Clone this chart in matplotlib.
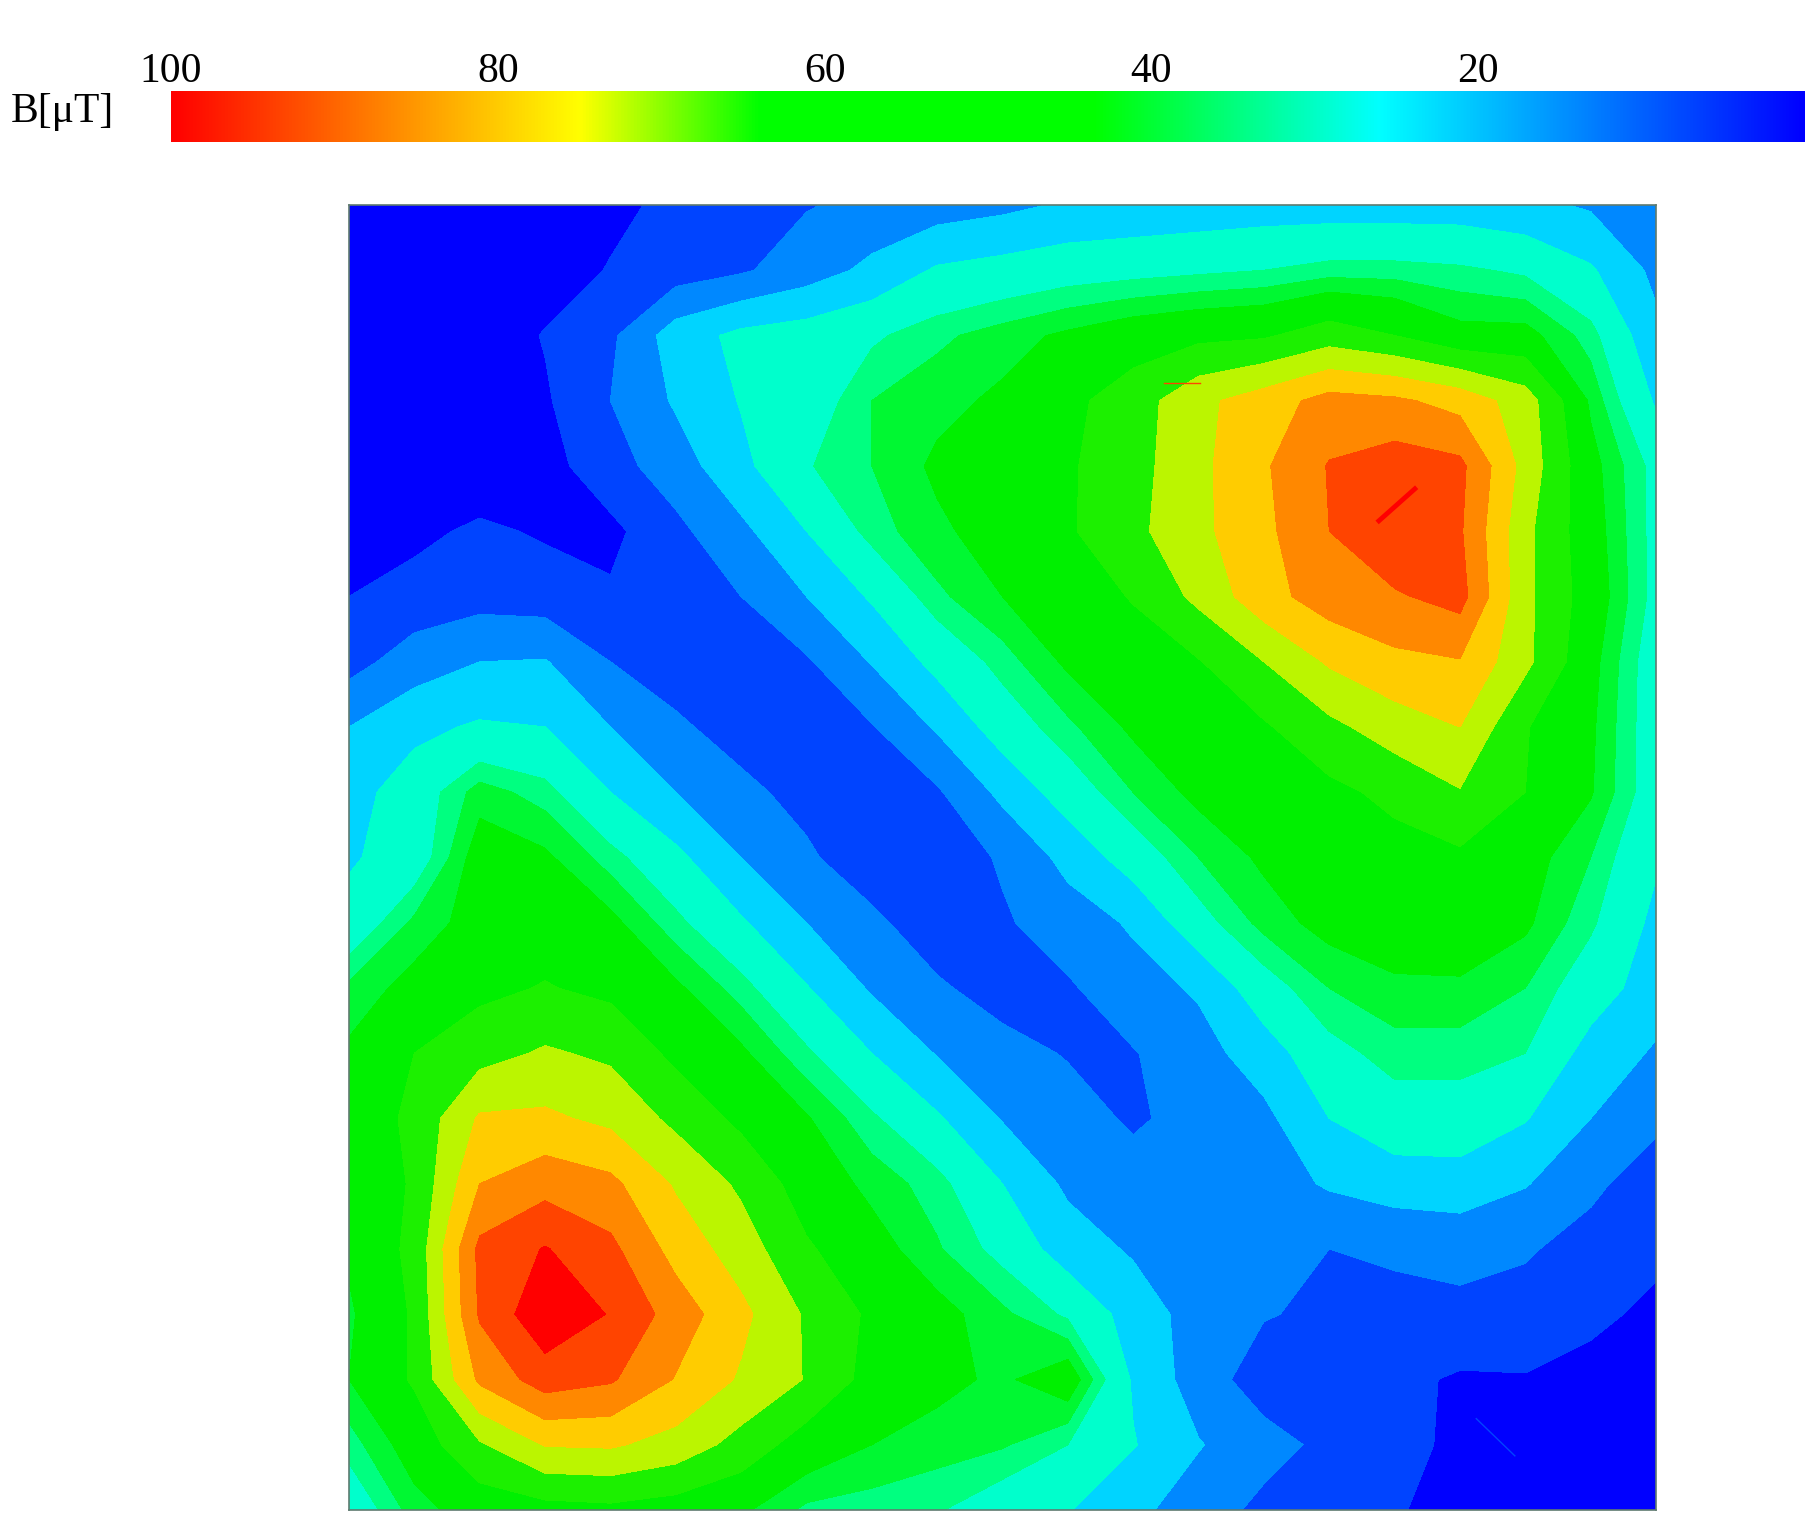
import matplotlib
matplotlib.use('Agg')
import matplotlib.pyplot as plt
from matplotlib.colors import LinearSegmentedColormap
import numpy as np

W, H = 1814, 1529

# B field, one row per line from top to bottom, in uT
B = [
    [2, 2, 2, 3, 6, 10, 13, 15.5, 18, 20, 22, 25, 26, 27, 28, 28, 28, 28, 26, 23, 20],
    [2, 2, 2, 4, 8.5, 12, 15, 20, 26, 33, 35, 37, 38, 39, 40, 42, 42, 41, 39, 33, 22],
    [2, 2, 3, 8.5, 14.5, 28, 34, 36, 39, 43, 46, 49, 52, 54, 55, 60, 56, 50, 50, 42, 26],
    [2, 2, 3, 7, 16, 25, 32.5, 36, 44, 46.5, 49, 54, 60, 70, 76, 83, 81.5, 77, 68, 47, 31],
    [2, 2, 2, 5, 13, 20, 30, 39.5, 44, 49, 52, 55, 61, 70, 79, 88.5, 92, 90, 69, 50, 38],
    [3, 6, 9.5, 7, 6, 14, 22, 32, 42, 47, 50.5, 55, 62, 70, 78, 88, 95, 89, 66, 51, 38],
    [8, 11, 13, 12, 9, 14, 16, 24, 33, 43, 48, 52, 56.5, 66, 77, 84, 87, 91, 66, 52, 38],
    [13, 20, 24, 24.5, 16, 13, 12, 15, 24.5, 34.5, 42, 49, 52.5, 55.5, 64, 73, 78, 79.5, 66, 50, 36],
    [24, 30, 33, 32, 24, 17, 13.5, 11.5, 15.5, 25, 36, 43, 49, 53, 55, 62, 68, 72, 56.5, 49, 36],
    [29, 36, 46, 42, 32, 24, 17.5, 14, 12, 15, 26, 36, 44, 49.5, 52, 54, 58, 63.5, 56, 48.5, 36],
    [31, 36, 51, 49, 42, 34, 24, 17, 12, 11, 17, 26.5, 36, 44, 49, 51, 53, 54.5, 50.5, 44, 33],
    [35, 45, 50.5, 52, 49.5, 41.5, 33, 24, 17.5, 12, 15, 20, 25, 37.5, 45.5, 50, 51.5, 52.5, 49, 41, 30],
    [45, 50, 54, 56.5, 54, 49, 42, 32.5, 23, 17, 13, 15, 21, 25, 37, 44, 47, 47, 44, 36, 28],
    [49, 56, 61, 65, 62.5, 54, 49, 41, 32, 23.5, 18.5, 15.5, 15.5, 21, 28, 38, 42, 42, 40, 29, 23],
    [50, 58, 73, 73.5, 70, 62, 54, 48.5, 41, 33, 23.5, 19, 15, 18.5, 22, 32, 37, 37, 32.5, 24, 18],
    [49, 57, 80, 85, 82, 71, 62.5, 52, 46.5, 42, 32, 22.5, 19, 18, 20, 25, 28, 28.5, 24.5, 18, 11],
    [49, 58, 90, 96.5, 90, 77, 68, 57, 50.5, 44.5, 38, 28, 23, 19, 17, 16, 17, 18.5, 17, 12.5, 10],
    [47, 57, 89, 102, 95.5, 84.5, 74, 63, 54.5, 50, 45, 39, 28.5, 20.5, 16.5, 14.5, 14, 14, 12.5, 10, 6],
    [48, 57, 81.5, 92, 89, 79.5, 71, 63.5, 53, 49.5, 47, 52, 31, 20, 12, 11, 10, 7, 7.5, 5, 3],
    [42, 51, 63, 72.5, 73, 69, 61, 52, 48, 46, 44.5, 40, 32.5, 24.5, 19, 14, 9.5, 7, 4, 3, 2],
    [35, 46, 51, 53, 54, 52, 49, 43, 42, 40.5, 36, 32.5, 26, 20, 14, 11, 8.5, 6, 4, 3, 2],
]

levels = [0, 8, 16, 24, 32, 40, 44, 48, 56, 64, 72, 80, 88, 96, 105]
band_colors = ['#0000ff', '#0044ff', '#0088ff', '#00d4ff', '#00ffcc', '#00ff80', '#00f832',
               '#00f000', '#1cf000', '#bbf500', '#ffcc00', '#ff8800', '#ff4400', '#ff0000']

# thin artefacts in the map, in grid units (column, row)
red_streak_col = [15.76, 16.31]
red_streak_row = [4.84, 4.35]
top_streak_col = [12.47, 13.02]
top_streak_row = [2.73, 2.73]
blue_streak_col = [17.25, 17.84]
blue_streak_row = [18.6, 19.17]

# colour bar
bar_values = [0, 26, 43.5, 64, 75, 100]
bar_colors = ['#0000ff', '#00ffff', '#00ff00', '#00ff00', '#ffff00', '#ff0000']
bar_ticks = [100, 80, 60, 40, 20]

plt.rcParams['font.family'] = ['Liberation Serif', 'DejaVu Serif']

fig = plt.figure(figsize=(W / 100, H / 100), dpi=100, facecolor='white')


def box(x0, y0, x1, y1):
    return [x0 / W, 1 - y1 / H, (x1 - x0) / W, (y1 - y0) / H]


cax = fig.add_axes(box(171, 91, 1805, 142))
stops = [(v / 100, c) for v, c in zip(bar_values, bar_colors)]
cmap = LinearSegmentedColormap.from_list('bar', stops, N=512)
cax.imshow(np.linspace(100, 0, 1024)[None, :], cmap=cmap, vmin=0, vmax=100,
           aspect='auto', extent=[100, 0, 0, 1])
cax.set_yticks([])
cax.set_xticks(bar_ticks)
cax.xaxis.tick_top()
cax.tick_params(axis='x', length=0, pad=0, labelsize=30)
for s in cax.spines.values():
    s.set_visible(False)
fig.text(11 / W, 1 - 112 / H, 'B[μT]', fontsize=30, va='center', ha='left')

ax = fig.add_axes(box(349, 205, 1656, 1510))
F = np.array(B)
ax.contourf(np.arange(F.shape[1]), np.arange(F.shape[0]), F, levels=levels, colors=band_colors)
ax.plot(red_streak_col, red_streak_row, color='#ff0000', lw=3.5)
ax.plot(top_streak_col, top_streak_row, color='#ff4400', lw=1)
ax.plot(blue_streak_col, blue_streak_row, color='#0044ff', lw=1)
ax.set_xlim(0, F.shape[1] - 1)
ax.set_ylim(F.shape[0] - 1, 0)
ax.set_xticks([])
ax.set_yticks([])
for s in ax.spines.values():
    s.set_color('#5f7a70')
    s.set_linewidth(1.2)

fig.savefig('out.png', dpi=100)
